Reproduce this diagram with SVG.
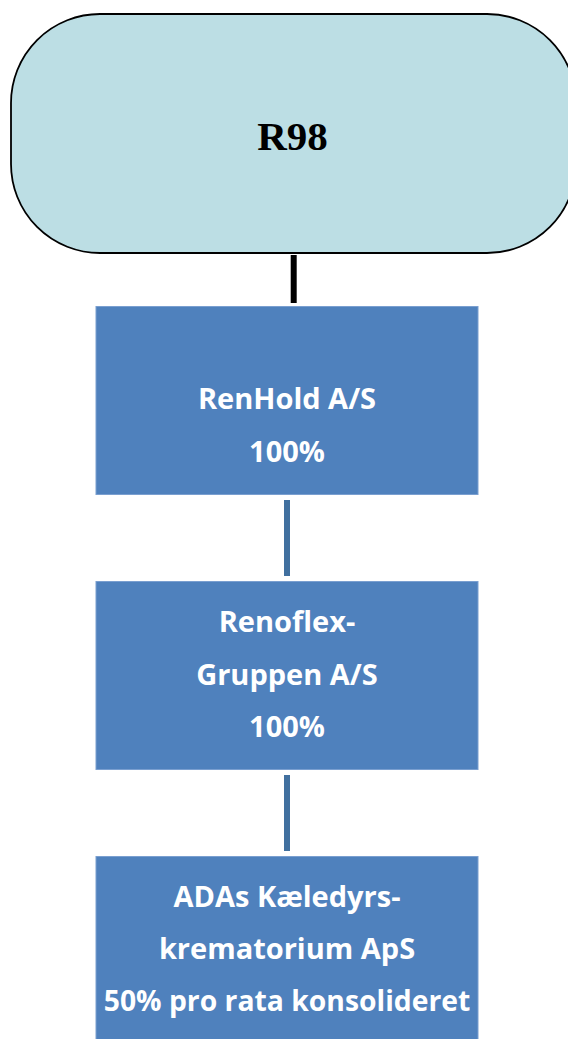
<svg xmlns="http://www.w3.org/2000/svg" width="568" height="1039" viewBox="0 0 568 1039">
<style>
.box{fill:#4f81bd;stroke:#7a9fd0;stroke-width:1}
.t{font-family:"Open Sans",sans-serif;font-weight:bold;font-size:29px;fill:#ffffff;text-anchor:middle}
.conn{stroke:#41709f;stroke-width:6}
</style>
<rect width="568" height="1039" fill="#ffffff"/>
<g id="connectors">
<line x1="293.7" y1="255" x2="293.7" y2="303" stroke="#000000" stroke-width="6"/>
<line class="conn" x1="287" y1="500" x2="287" y2="576"/>
<line class="conn" x1="287" y1="775" x2="287" y2="851"/>
</g>
<g id="r98">
<rect x="11" y="14" width="565" height="239" rx="89" ry="89" fill="#bcdee4" stroke="#000000" stroke-width="1.8"/>
<text x="292.5" y="150" font-family="Liberation Serif,serif" font-weight="bold" font-size="41" fill="#000000" text-anchor="middle">R98</text>
</g>
<g id="renhold">
<rect class="box" x="96" y="306.5" width="382" height="188"/>
<text class="t" x="287" y="409">RenHold A/S</text>
<text class="t" x="287" y="462">100%</text>
</g>
<g id="renoflex">
<rect class="box" x="96" y="581.5" width="382" height="188"/>
<text class="t" x="287" y="632">Renoflex-</text>
<text class="t" x="287" y="684.5">Gruppen A/S</text>
<text class="t" x="287" y="737">100%</text>
</g>
<g id="adas">
<rect class="box" x="96" y="856.5" width="382" height="190"/>
<text class="t" x="287" y="907">ADAs Kæledyrs-</text>
<text class="t" x="287" y="959">krematorium ApS</text>
<text class="t" x="287" y="1011" style="font-size:28.3px">50% pro rata konsolideret</text>
</g>
</svg>
